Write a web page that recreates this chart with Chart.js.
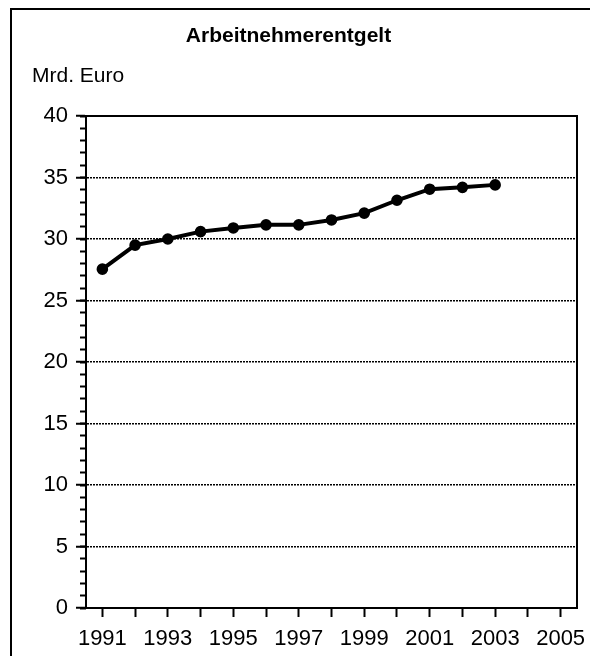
<!DOCTYPE html>
<html>
<head>
<meta charset="utf-8">
<script src="https://cdn.jsdelivr.net/npm/chart.js@4/dist/chart.umd.min.js"></script>
<style>
  html, body { margin: 0; padding: 0; background: #fff; overflow: hidden; }
  #wrap { position: relative; width: 590px; height: 656px; }
  #frame { position: absolute; left: 10px; top: 8px; width: 700px; height: 800px;
           border-left: 2.5px solid #000; border-top: 2.5px solid #000; }
  #chart { position: absolute; left: 0; top: 0; }
</style>
</head>
<body>
<div id="wrap">
  <div id="frame"></div>
  <canvas id="chart" width="590" height="656"></canvas>
</div>
<script>
// data
const years = ["1991", "1992", "1993", "1994", "1995", "1996", "1997", "1998",
               "1999", "2000", "2001", "2002", "2003", "2004", "2005"];
const entgelt = [27.55, 29.5, 30.0, 30.6, 30.9, 31.15, 31.15, 31.55, 32.1, 33.15, 34.05, 34.2, 34.4];
const yMin = 0;
const yMax = 40;

const FONT = "'Liberation Sans', Arial, sans-serif";

// frame around the plot area (top and right sides)
const plotBox = {
    id: "plotBox",
    afterDraw(chart) {
        const { ctx, chartArea: a } = chart;
        ctx.save();
        ctx.strokeStyle = "#000";
        ctx.lineWidth = 2;
        ctx.beginPath();
        ctx.moveTo(a.left, a.top);
        ctx.lineTo(a.right, a.top);
        ctx.lineTo(a.right, a.bottom);
        ctx.stroke();
        ctx.restore();
    }
};

// unit label top-left
const unitLabel = {
    id: "unitLabel",
    afterDraw(chart) {
        const ctx = chart.ctx;
        ctx.save();
        ctx.font = "21px " + FONT;
        ctx.fillStyle = "#000";
        ctx.textAlign = "left";
        ctx.textBaseline = "middle";
        ctx.fillText("Mrd. Euro", 32, 76);
        ctx.restore();
    }
};

new Chart(document.getElementById("chart"), {
    type: "line",
    data: {
        labels: years,
        datasets: [{
            data: entgelt,
            borderColor: "#000",
            backgroundColor: "#000",
            borderWidth: 4,
            pointRadius: 3.8,
            pointHoverRadius: 3.8,
            tension: 0
        }]
    },
    options: {
        responsive: false,
        animation: false,
        events: [],
        layout: { padding: { left: 0, right: 13, top: 0, bottom: 0 } },
        plugins: {
            legend: { display: false },
            tooltip: { enabled: false },
            title: {
                display: true,
                text: "Arbeitnehmerentgelt",
                color: "#000",
                font: { family: FONT, size: 21, weight: "bold" },
                padding: { top: 23.4, bottom: 67.4 }
            }
        },
        scales: {
            x: {
                type: "category",
                offset: true,
                afterFit: s => { s.height = 48; s.paddingLeft = 0; s.paddingRight = 0; },
                grid: { drawOnChartArea: false, tickLength: 9, tickWidth: 2, tickColor: "#000" },
                border: { color: "#000", width: 2 },
                ticks: {
                    autoSkip: false,
                    maxRotation: 0,
                    padding: 9,
                    color: "#000",
                    font: { family: FONT, size: 22 },
                    callback: (v, i) => (i % 2 === 0 ? years[i] : "")
                }
            },
            y: {
                position: "left",
                weight: 1,
                min: yMin,
                max: yMax,
                afterFit: s => { s.width = 86; },
                grid: {
                    color: c => (c.tick && c.tick.value > yMin && c.tick.value < yMax) ? "#000" : "rgba(0,0,0,0)",
                    lineWidth: 1.5,
                    tickLength: 10,
                    tickWidth: 2,
                    tickColor: "#000"
                },
                border: { color: "#000", width: 2, dash: [2, 1] },
                ticks: {
                    stepSize: 5,
                    padding: 8,
                    color: "#000",
                    font: { family: FONT, size: 22 }
                }
            },
            yMinor: {
                position: "left",
                weight: 0,
                min: yMin,
                max: yMax,
                afterFit: s => { s.width = 0; },
                grid: { drawOnChartArea: false, tickLength: 6, tickWidth: 2, tickColor: "#000" },
                border: { display: false },
                ticks: { stepSize: 1, display: false }
            }
        }
    },
    plugins: [plotBox, unitLabel]
});
</script>
</body>
</html>
